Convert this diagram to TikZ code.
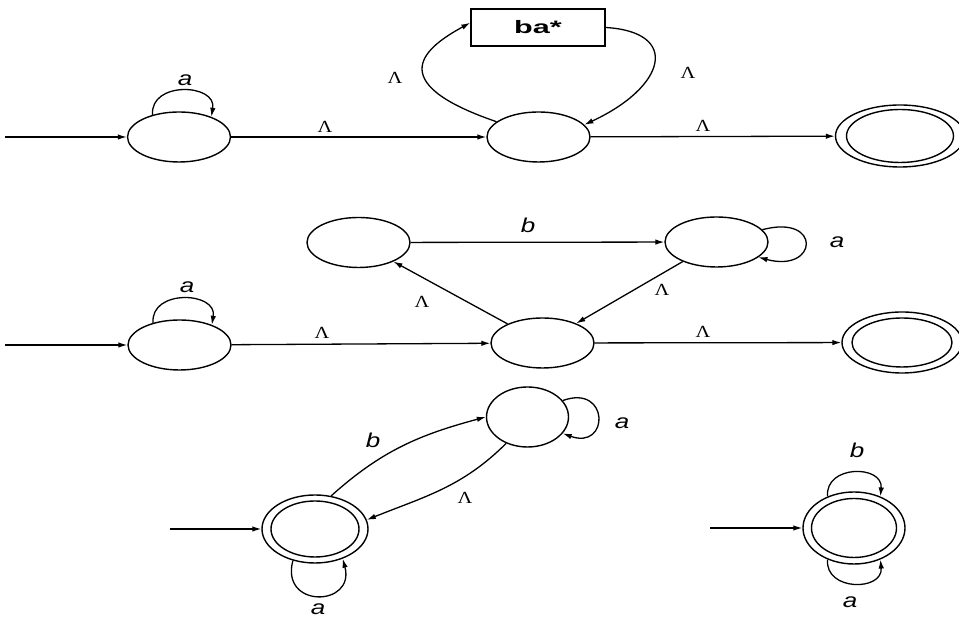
\documentclass[tikz,border=0pt]{standalone}
\usepackage{fontspec}
\usepackage{graphicx}
\setmainfont{Liberation Sans}
\newfontfamily\lamfont{Liberation Serif}
\usetikzlibrary{shapes.geometric,arrows.meta,calc}

% horizontally widened label texts
\newcommand\symtxt[1]{\scalebox{1.3}[1]{#1}}
\newcommand\lamtxt{\scalebox{1.2}[1]{Λ}}

\tikzset{
  x=1pt, y=1pt,
  state/.style={ellipse, draw, line width=1.4pt, inner sep=0pt,
                minimum width=103pt, minimum height=50pt},
  tbox/.style={draw, line width=1.4pt, inner sep=0pt,
               minimum width=134pt, minimum height=37pt,
               font=\fontsize{18}{18}\selectfont\bfseries},
  edge/.style={line width=1.3pt, -{Latex[length=9pt,width=5.5pt]}},
  sym/.style={inner sep=0pt, font=\fontsize{20}{20}\selectfont\itshape},
  lam/.style={inner sep=0pt, font=\fontsize{17}{17}\selectfont\lamfont},
}

\begin{document}
\begin{tikzpicture}
\useasboundingbox (0,0) rectangle (959,617);

% ---------- first automaton ----------
\node[state] (A) at (179,480) {};
\node[state] (B) at (538.5,480) {};
\node[state, minimum width=129pt, minimum height=62pt] (C) at (900,481) {};
\node[state, minimum width=107pt, minimum height=53pt] (Cin) at (C.center) {};
\node[tbox] (box) at (538,589.5) {\scalebox{1.7}[1]{ba*}};

\coordinate (s1) at (5,480);
\draw[edge] (s1) -- (A);
\draw[edge] (A) -- (B);
\draw[edge] (B) -- (C);
\draw[edge] (A.140) .. controls +(95:34) and +(80:34) .. (A.32);
\draw[edge] (B.160) .. controls +(-117,40) and +(-44,-24) .. (box.176);
\draw[edge] (box.east) .. controls +(75,-4.5) and +(82,38) .. (B.15);

\node[sym] (la1) at (185,537) {\symtxt{a}};
\node[lam] (l1) at (325,490) {\lamtxt};
\node[lam] (l2) at (395,539) {\lamtxt};
\node[lam] (l3) at (688,544) {\lamtxt};
\node[lam] (l4) at (703,491) {\lamtxt};

% ---------- second automaton ----------
\node[state] (D) at (179.5,272) {};
\node[state] (E) at (542.5,274) {};
\node[state] (F) at (358.5,374.5) {};
\node[state] (G) at (716.5,375) {};
\node[state, minimum width=120pt, minimum height=61pt] (H) at (902,274.5) {};
\node[state, minimum width=100pt, minimum height=49pt] (Hin) at (H.center) {};

\coordinate (s2) at (5,272);
\draw[edge] (s2) -- (D);
\draw[edge] (D) -- (E);
\draw[edge] (E) -- (H);
\draw[edge] (F) -- (G);
\draw[edge] (G) -- (E);
\draw[edge] (E) -- (F);
\draw[edge] (D.140) .. controls +(95:34) and +(80:34) .. (D.32);
\draw[edge] (G.15) .. controls +(15:62) and +(-15:62) .. (G.-20);

\node[sym] (la2) at (187,330) {\symtxt{a}};
\node[lam] (l5) at (322,284) {\lamtxt};
\node[sym] (lb2) at (528,392) {\symtxt{b}};
\node[sym] (la3) at (837,375) {\symtxt{a}};
\node[lam] (l6) at (662,327) {\lamtxt};
\node[lam] (l7) at (422,315) {\lamtxt};
\node[lam] (l8) at (703,285) {\lamtxt};

% ---------- third automaton ----------
\node[state, minimum width=106pt, minimum height=68pt] (J) at (315,88) {};
\node[state, minimum width=88pt, minimum height=56pt] (Jin) at (J.center) {};
\node[state, minimum width=82pt, minimum height=60pt] (I) at (527.5,200) {};

\coordinate (s3) at (170,88);
\draw[edge] (s3) -- (J);
\draw[edge] (J.64) to[out=42,in=195] (I.west);
\draw[edge] (I.231) to[out=225,in=22] (J.10);
\draw[edge] (I.25) .. controls +(20:50) and +(-20:50) .. (I.-25);
\draw[edge] (J.235) .. controls +(255:50) and +(285:50) .. (J.313);

\node[sym] (lb3) at (373,177) {\symtxt{b}};
\node[lam] (l9) at (465,119) {\lamtxt};
\node[sym] (la4) at (622,194) {\symtxt{a}};
\node[sym] (la5) at (318,8) {\symtxt{a}};

% ---------- fourth automaton ----------
\node[state, minimum width=102pt, minimum height=72pt] (K) at (854,89) {};
\node[state, minimum width=85pt, minimum height=59pt] (Kin) at (K.center) {};

\coordinate (s4) at (710,89);
\draw[edge] (s4) -- (K);
\draw[edge] (K.130) .. controls +(95:32) and +(85:32) .. (K.50);
\draw[edge] (K.230) .. controls +(265:32) and +(275:32) .. (K.310);

\node[sym] (lb4) at (857,167) {\symtxt{b}};
\node[sym] (la6) at (850,15) {\symtxt{a}};
\end{tikzpicture}
\end{document}
